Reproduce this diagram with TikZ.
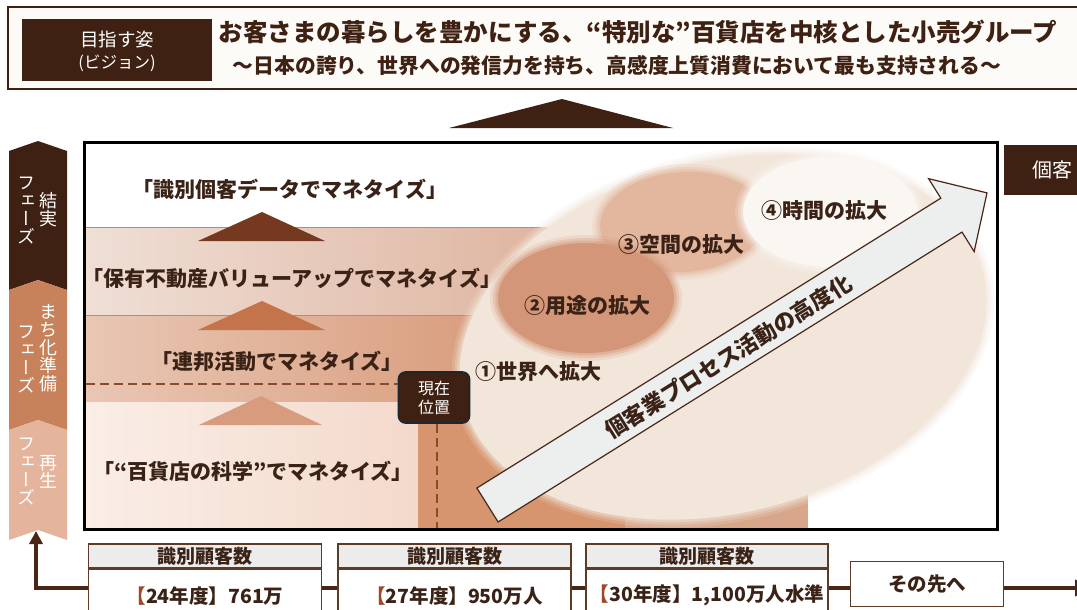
\documentclass[tikz,border=0pt]{standalone}
\usepackage{fontspec}
\setmainfont{Noto Sans CJK JP}
\newfontfamily\jpv{Noto Sans CJK JP}[RawFeature=+vert]
\usetikzlibrary{arrows.meta}
\definecolor{dbrown}{HTML}{3F2113}
\definecolor{tbrown}{HTML}{3A2216}
\definecolor{cbrown}{HTML}{4A2617}
\definecolor{bbord}{HTML}{5E3B26}
\definecolor{hdrgray}{HTML}{ECECEC}
\definecolor{rust}{HTML}{9A4A2A}
\definecolor{tri1}{HTML}{74391F}
\definecolor{tri2}{HTML}{C4744A}
\definecolor{tri3}{HTML}{D79C7D}
\definecolor{chev2}{HTML}{C8825B}
\definecolor{chev3}{HTML}{E4B49C}
\definecolor{dashc}{HTML}{8B4A2E}
\definecolor{cream}{HTML}{F2E6DA}
\definecolor{blobB}{HTML}{D49678}
\definecolor{blobC}{HTML}{E3B69E}
\definecolor{blobD}{HTML}{FAF6F2}
\definecolor{arrfill}{HTML}{EDEEEE}
\definecolor{visbg}{HTML}{FDFBF8}
\definecolor{bandAl}{HTML}{EFDFD6}
\definecolor{bandAr}{HTML}{DDB09A}
\definecolor{bandBl}{HTML}{E9C7B4}
\definecolor{bandBr}{HTML}{D4916E}
\definecolor{bandCl}{HTML}{FAEEE7}
\definecolor{bandCr}{HTML}{F3D9CB}
\definecolor{colA}{HTML}{D6956F}
\definecolor{colB}{HTML}{D8A78B}
\definecolor{bline}{HTML}{A89088}
\newcommand{\softell}[6]{%
  \foreach \k/\o in {8/0.18,5/0.28,2.5/0.4}{%
    \fill[#6,opacity=\o,rotate around={#5:(#1,#2)}] (#1,#2) ellipse [x radius=#3+\k, y radius=#4+\k];}%
  \fill[#6,rotate around={#5:(#1,#2)}] (#1,#2) ellipse [x radius=#3, y radius=#4];}
\tikzset{
  jtxt/.style={text=tbrown, font=\bfseries\fontsize{21}{24}\selectfont, inner sep=0pt},
  hdr/.style={draw=bbord, line width=1.6pt, fill=hdrgray, minimum width=233pt, minimum height=24pt, inner sep=0pt, text=tbrown, font=\bfseries\fontsize{19}{22}\selectfont},
  bodybox/.style={draw=bbord, line width=1.6pt, fill=white, minimum width=233pt, minimum height=52pt, inner sep=0pt, text=tbrown, font=\bfseries\fontsize{19.5}{22}\selectfont},
  conn/.style={draw=cbrown, line width=3.5pt},
  phase/.style={text=white, font=\jpv\fontsize{18}{18}\selectfont, align=center, inner sep=0pt},
  dashline/.style={draw=dashc, line width=2.6pt, dash pattern=on 9pt off 5pt},
  visbox/.style={fill=dbrown, minimum width=190pt, minimum height=62pt, text=white, inner sep=0pt},
  vistext/.style={text=white, inner sep=0pt},
  nowbox/.style={fill=dbrown, draw={rgb,255:red,27;green,38;blue,49}, line width=1.6pt, rounded corners=7pt, minimum width=71pt, minimum height=51pt, text=white, align=center, inner sep=0pt, font=\fontsize{16}{19}\selectfont},
}
\begin{document}
\begin{tikzpicture}[x=1pt,y=-1pt]
\useasboundingbox (0,0) rectangle (1077,610);
\fill[white] (0,0) rectangle (1077,610);

% ---------- vision frame ----------
\draw[dbrown, line width=2.6pt, fill=visbg] (8,7) rectangle (1110,89);
\node[visbox] (vis) at (117,50) {};
\node[vistext, font=\fontsize{18.5}{22}\selectfont] (vis1) at (117,39) {目指す姿};
\node[vistext, font=\fontsize{16.5}{19}\selectfont] (vis2) at (117,63) {(ビジョン)};
\node[text=dbrown, font=\bfseries\fontsize{24.5}{28}\selectfont, inner sep=0pt] (title) at (638,32) {お客さまの暮らしを豊かにする、“特別な”百貨店を中核とした小売グループ};
\node[text=dbrown, font=\bfseries\fontsize{20.8}{24}\selectfont, inner sep=0pt] (sub) at (617,66) {～日本の誇り、世界への発信力を持ち、高感度上質消費において最も支持される～};
\fill[dbrown] (449,128) -- (562,99) -- (673,128) -- cycle;

% ---------- left phase chevrons ----------
\fill[dbrown] (9,151) -- (38,141) -- (67,151) -- (67,290) -- (38,280) -- (9,290) -- cycle;
\fill[chev2] (9,290) -- (38,280) -- (67,290) -- (67,430) -- (38,420) -- (9,430) -- cycle;
\fill[chev3] (9,430) -- (38,420) -- (67,430) -- (67,540) -- (38,530) -- (9,540) -- cycle;
\node[phase] (p1a) at (48,210) {結\\実};
\node[phase] (p1b) at (26,211) {フ\\ェ\\ー\\ズ};
\node[phase] (p2a) at (48,348) {ま\\ち\\化\\準\\備};
\node[phase] (p2b) at (26,360) {フ\\ェ\\ー\\ズ};
\node[phase] (p3a) at (48,472) {再\\生};
\node[phase] (p3b) at (26,472) {フ\\ェ\\ー\\ズ};

% ---------- main panel ----------
\fill[white] (84,142) rectangle (997,529);
\shade[left color=bandAl, right color=bandAr] (84,227) rectangle (600,315);
\shade[left color=bandBl, right color=bandBr] (84,315) rectangle (600,402);
\shade[left color=bandCl, right color=bandCr] (84,402) rectangle (418,529);
\fill[colA] (418,402) rectangle (625,529);
\fill[colB] (625,402) rectangle (808,529);
\draw[bline, line width=0.8pt] (84,227) -- (540,227);
\draw[bline, line width=0.8pt] (84,315) -- (500,315);

% big ellipse and blobs
\softell{723}{337}{268}{176}{14}{cream}
\softell{683}{222}{83}{50}{4}{blobC}
\softell{830}{212}{87}{55}{0}{blobD}
\softell{586}{298}{88}{55}{0}{blobB}

% triangles
\fill[tri1] (198,241) -- (262,212) -- (325,241) -- cycle;
\fill[tri2] (198,330) -- (262,301) -- (325,330) -- cycle;
\fill[tri3] (199,425) -- (261,396) -- (322,425) -- cycle;

% labels
\node[jtxt] (l1) at (290,189) {「識別個客データでマネタイズ」};
\node[jtxt] (l2) at (292,278) {「保有不動産バリューアップでマネタイズ」};
\node[jtxt] (l3) at (277,361) {「連邦活動でマネタイズ」};
\node[jtxt] (l4) at (253,471) {「“百貨店の科学”でマネタイズ」};

\node[jtxt] (e1) at (538,372) {①世界へ拡大};
\node[jtxt] (e2) at (587,306) {②用途の拡大};
\node[jtxt] (e3) at (681,245) {③空間の拡大};
\node[jtxt] (e4) at (824,211) {④時間の拡大};

% big arrow
\begin{scope}[shift={(487.5,505)}, rotate=32]
  \filldraw[fill=arrfill, draw=cbrown, line width=1.2pt, line join=miter]
    (0,-20) -- (547,-20) -- (547,-43) -- (589,0) -- (547,43) -- (547,20) -- (0,20) -- cycle;
\end{scope}
\node[jtxt, font=\bfseries\fontsize{22}{26}\selectfont, rotate=32] (arrtxt) at (728,357) {個客業プロセス活動の高度化};

% current position
\node[nowbox] (now) at (434,397.5) {現在\\位置};
\coordinate (dl) at (86,384);
\coordinate (pbottom) at (437,528);
\draw[dashline] (dl) -- (dl -| now.west);
\draw[dashline] (now.south -| pbottom) -- (pbottom);

\draw[black, line width=3pt] (84,142) rectangle (997,529);

% right header cut
\fill[dbrown] (1004,145) rectangle (1110,195);
\node[text=white, font=\fontsize{20}{24}\selectfont, anchor=west, inner sep=0pt] (kk) at (1032,170) {個客};

% ---------- bottom boxes ----------
\node[hdr] (h1) at (205,556) {識別顧客数};
\node[bodybox, anchor=north] (b1) at (h1.south) {{\color{rust}【}24年度】761万};
\node[hdr] (h2) at (454.5,556) {識別顧客数};
\node[bodybox, anchor=north] (b2) at (h2.south) {{\color{rust}【}27年度】950万人};
\node[hdr, minimum width=242pt] (h3) at (707,556) {識別顧客数};
\node[bodybox, minimum width=242pt, anchor=north] (b3) at (h3.south) {{\color{rust}【}30年度】1,100万人水準};
\node[bodybox, minimum width=153pt, minimum height=45pt] (b4) at (927,584) {その先へ};

\coordinate (rowy) at (0,588);
\coordinate (larr) at (36,531);
\coordinate (rend) at (1093,588);
\draw[conn] (b1.east |- rowy) -- (b2.west |- rowy);
\draw[conn] (b2.east |- rowy) -- (b3.west |- rowy);
\draw[conn] (b3.east |- rowy) -- (b4.west |- rowy);
\draw[conn, -{Triangle[length=13pt,width=13pt]}] (b1.west |- rowy) -| (larr);
\draw[conn, -{Triangle[length=18pt,width=16pt]}] (b4.east |- rowy) -- (rend);
\end{tikzpicture}
\end{document}
